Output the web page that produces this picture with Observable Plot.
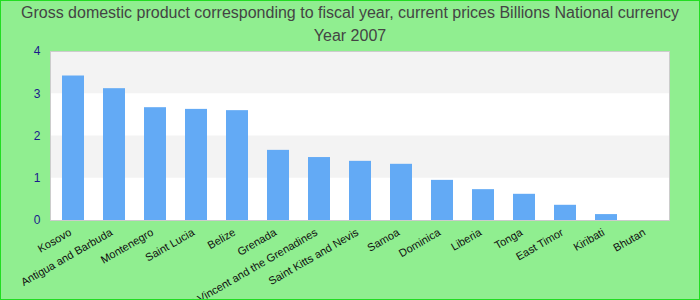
<!DOCTYPE html>
<html>
<head>
<meta charset="utf-8">
<script src="https://cdn.jsdelivr.net/npm/d3@7"></script>
<script src="https://cdn.jsdelivr.net/npm/@observablehq/plot@0.6"></script>
<style>
  html, body { margin: 0; padding: 0; }
  #wrap {
    position: relative; width: 700px; height: 300px; box-sizing: border-box;
    border: 1px solid #22dd22; background: #90ee90; overflow: hidden;
    font-family: "Liberation Sans", Arial, sans-serif;
  }
  .tline {
    position: absolute; left: 0; width: 698px; text-align: center;
    font-size: 16px; line-height: 20px; color: #444; white-space: nowrap;
  }
  #chart { position: absolute; left: 0; top: 40px; }
  #chart svg { background: transparent; overflow: visible; }
</style>
</head>
<body>
<div id="wrap">
  <div class="tline" style="top:2px"><span id="t1"></span></div>
  <div class="tline" style="top:25px"><span id="t2"></span></div>
  <div id="chart"></div>
</div>
<script>
const titleText = "Gross domestic product corresponding to fiscal year, current prices Billions National currency";
const subtitleText = "Year 2007";
const countries = ["Kosovo","Antigua and Barbuda","Montenegro","Saint Lucia","Belize","Grenada","Saint Vincent and the Grenadines","Saint Kitts and Nevis","Samoa","Dominica","Liberia","Tonga","East Timor","Kiribati","Bhutan"];
const values = [3.42,3.12,2.67,2.63,2.60,1.66,1.49,1.40,1.33,0.95,0.73,0.62,0.36,0.14,0];
const yTicks = [0,1,2,3,4];

document.getElementById("t1").textContent = titleText;
document.getElementById("t2").textContent = subtitleText;

const data = countries.map((c, i) => ({country: c, value: values[i]}));
const stripes = [];
for (let i = 0; i < yTicks.length - 1; i++) if (i % 2 === 1) stripes.push({y1: yTicks[i], y2: yTicks[i+1]});

const chart = Plot.plot({
  width: 698,
  height: 259,
  marginLeft: 49,
  marginRight: 30,
  marginTop: 10,
  marginBottom: 80,
  style: {background: "transparent", fontFamily: "Liberation Sans, Arial, sans-serif"},
  x: {domain: countries, paddingInner: 0.47, paddingOuter: 0.27, label: null},
  y: {domain: [0, 4], ticks: yTicks, label: null},
  marks: [
    Plot.frame({fill: "white"}),
    Plot.rect(stripes, {y1: "y1", y2: "y2", fill: "#f3f3f3"}),
    Plot.barY(data, {x: "country", y: "value", fill: "#63aaf5"}),
    Plot.frame({stroke: "#cccccc"}),
    Plot.axisY({ticks: yTicks, tickFormat: d3.format("d"), tickSize: 0, tickPadding: 10, fill: "#1a1a8c", fontSize: 12, label: null}),
    Plot.axisX({tickSize: 0, tickRotate: -30, tickPadding: 10, dx: -3, dy: 1, fill: "#111", fontSize: 11, label: null})
  ]
});
document.getElementById("chart").appendChild(chart);
</script>
</body>
</html>
